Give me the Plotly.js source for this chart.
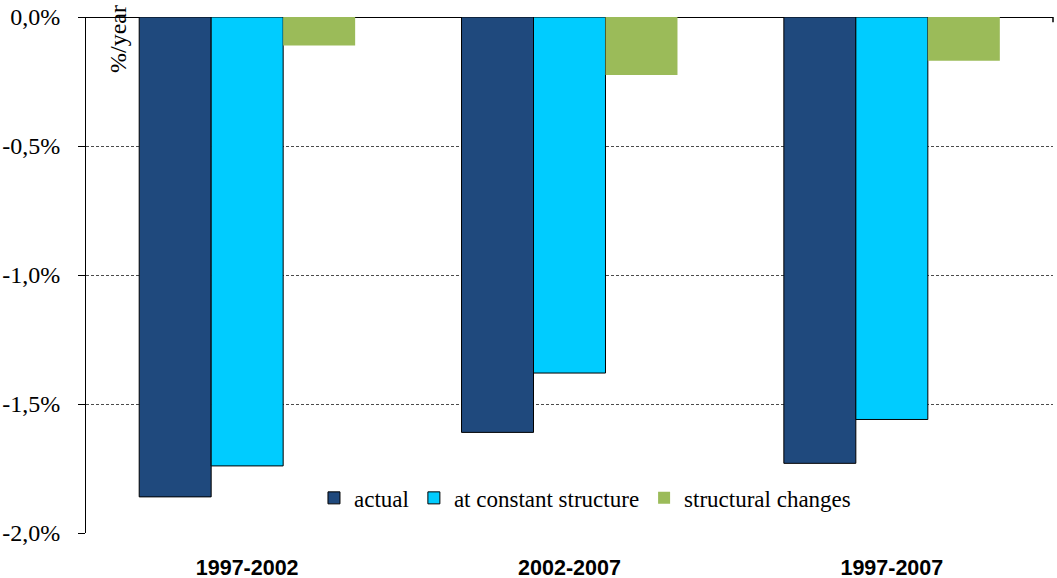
<!DOCTYPE html>
<html>
<head>
<meta charset="utf-8">
<script src="https://cdn.plot.ly/plotly-3.0.1.min.js"></script>
<style>html,body{margin:0;padding:0;background:#fff;}#chart{width:1057px;height:578px;}</style>
</head>
<body>
<div id="chart"></div>
<script>
// Periods on the category axis
const periods = ['1997-2002', '2002-2007', '1997-2007'];

// Annual change, % per year
const actual = [-1.86, -1.61, -1.73];
const constantStructure = [-1.74, -1.38, -1.56];
const structuralChanges = [-0.11, -0.225, -0.17];

// Y axis ticks
const yTickVals = [0, -0.5, -1.0, -1.5, -2.0];
const yTickText = ['0,0%', '-0,5%', '-1,0%', '-1,5%', '-2,0%'];

const serif = '"Times New Roman", "Liberation Serif", serif';
const sans = 'Arial, "Liberation Sans", sans-serif';

const traces = [
  {
    type: 'bar', name: 'actual', x: periods, y: actual,
    marker: {color: '#1f497d', line: {color: '#000000', width: 1}}
  },
  {
    type: 'bar', name: 'at constant structure', x: periods, y: constantStructure,
    marker: {color: '#00ccff', line: {color: '#000000', width: 1}}
  },
  {
    type: 'bar', name: 'structural changes', x: periods, y: structuralChanges,
    marker: {color: '#9bbb59', line: {color: '#9bbb59', width: 0}}
  }
];

const layout = {
  width: 1057, height: 578,
  margin: {l: 86, r: 4, t: 17, b: 45},
  paper_bgcolor: '#ffffff', plot_bgcolor: '#ffffff',
  font: {family: serif, size: 23, color: '#000'},
  barmode: 'group', bargap: 0.33, bargroupgap: 0,
  showlegend: true,
  legend: {
    orientation: 'h', x: 0.516, xanchor: 'center', y: 0.068, yanchor: 'middle',
    font: {family: serif, size: 23, color: '#000'},
    bgcolor: 'rgba(0,0,0,0)', itemwidth: 30, traceorder: 'normal'
  },
  xaxis: {
    type: 'category', showgrid: false, zeroline: false, showline: false,
    ticks: '', tickfont: {family: sans, size: 21.5, color: '#000', weight: 'bold'},
    ticklabelstandoff: 19, fixedrange: true
  },
  yaxis: {
    range: [-2.0, 0], tickvals: yTickVals, ticktext: yTickText,
    tickfont: {family: serif, size: 24, color: '#000'},
    showgrid: true, gridcolor: '#000000', griddash: '3px,2px', gridwidth: 0.7,
    zeroline: true, zerolinecolor: '#000000', zerolinewidth: 1,
    showline: true, linecolor: '#000000', linewidth: 1,
    ticks: 'outside', ticklen: 7, tickcolor: '#000', ticklabelstandoff: 13,
    fixedrange: true
  },
  shapes: [
    // small end tick on the right of the zero line
    {type: 'line', xref: 'paper', yref: 'paper', x0: 1, x1: 1, y0: 1, y1: 0.99,
     line: {color: '#000', width: 1.5}}
  ],
  annotations: [
    {
      text: '%/year', xref: 'paper', yref: 'paper', x: 0.033, y: 1.027,
      xanchor: 'center', yanchor: 'top', textangle: -90, showarrow: false,
      font: {family: serif, size: 24, color: '#000'}
    }
  ]
};

Plotly.newPlot('chart', traces, layout, {displayModeBar: false, staticPlot: true});
</script>
</body>
</html>
